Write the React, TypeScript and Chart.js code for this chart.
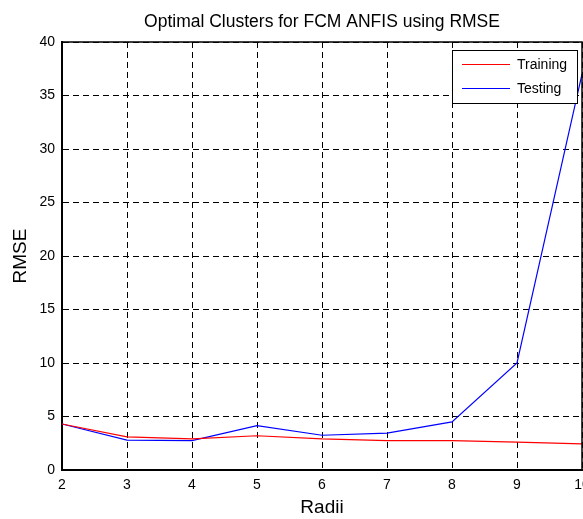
import React, { useEffect, useRef } from 'react';
import { Chart, registerables } from 'chart.js';

Chart.register(...registerables);

const radii = [2, 3, 4, 5, 6, 7, 8, 9, 10];
const training = [4.3, 3.1, 2.9, 3.2, 2.9, 2.75, 2.75, 2.6, 2.45];
const testing = [4.3, 2.8, 2.75, 4.15, 3.25, 3.45, 4.5, 10.0, 37.0];
const seriesNames = ['Training', 'Testing'];
const titleText = 'Optimal Clusters for FCM ANFIS using RMSE';
const xLabel = 'Radii';
const yLabel = 'RMSE';
const xRange = [2, 10];
const yRange = [0, 40];
const yStep = 5;

const FONT = "'Liberation Sans', Arial, Helvetica, sans-serif";

const boxPlugin = {
  id: 'boxPlugin',
  afterDatasetsDraw(chart: any) {
    const { ctx, chartArea } = chart;
    ctx.save();
    ctx.strokeStyle = '#000';
    ctx.lineWidth = 1.5;
    ctx.beginPath();
    ctx.moveTo(chartArea.left, chartArea.top);
    ctx.lineTo(chartArea.right, chartArea.top);
    ctx.lineTo(chartArea.right, chartArea.bottom);
    ctx.stroke();
    ctx.restore();
  },
};

const legendPlugin = {
  id: 'legendPlugin',
  afterDraw(chart: any) {
    const { ctx, chartArea } = chart;
    const w = 125;
    const h = 53;
    const x = Math.round(chartArea.right - 130);
    const y = Math.round(chartArea.top + 8);
    ctx.save();
    ctx.fillStyle = '#fff';
    ctx.fillRect(x, y, w, h);
    ctx.strokeStyle = '#000';
    ctx.lineWidth = 1;
    ctx.strokeRect(x + 0.5, y + 0.5, w, h);
    chart.data.datasets.forEach((ds: any, i: number) => {
      const cy = y + 14 + i * 24;
      ctx.strokeStyle = ds.borderColor;
      ctx.lineWidth = 1;
      ctx.beginPath();
      ctx.moveTo(x + 10, cy + 0.5);
      ctx.lineTo(x + 58, cy + 0.5);
      ctx.stroke();
      ctx.fillStyle = '#000';
      ctx.font = `14px ${FONT}`;
      ctx.textBaseline = 'middle';
      ctx.textAlign = 'left';
      ctx.fillText(ds.label, x + 65, cy + 1);
    });
    ctx.restore();
  },
};

export default function App() {
  const ref = useRef<HTMLCanvasElement | null>(null);

  useEffect(() => {
    if (!ref.current) return;
    const chart = new Chart(ref.current, {
      type: 'line',
      data: {
        datasets: [
          {
            label: seriesNames[0],
            data: radii.map((r, i) => ({ x: r, y: training[i] })),
            borderColor: '#ff0000',
            backgroundColor: '#ff0000',
            borderWidth: 1.2,
            pointRadius: 0,
            tension: 0,
          },
          {
            label: seriesNames[1],
            data: radii.map((r, i) => ({ x: r, y: testing[i] })),
            borderColor: '#0000ff',
            backgroundColor: '#0000ff',
            borderWidth: 1.2,
            pointRadius: 0,
            tension: 0,
          },
        ],
      },
      options: {
        responsive: false,
        animation: false,
        devicePixelRatio: 1,
        layout: { padding: { left: 0, right: 58, top: 0, bottom: 0 } },
        plugins: {
          legend: { display: false },
          tooltip: { enabled: false },
          title: {
            display: true,
            text: titleText,
            fullSize: false,
            color: '#000',
            font: { family: FONT, size: 17.5, weight: 'normal' },
            padding: { top: 11.5, bottom: 9.5 },
          },
        },
        scales: {
          x: {
            type: 'linear',
            min: xRange[0],
            max: xRange[1],
            afterFit(scale: any) {
              scale.height = 49;
            },
            ticks: {
              stepSize: 1,
              color: '#000',
              padding: 7,
              font: { family: FONT, size: 14 },
              maxRotation: 0,
            },
            grid: {
              color: '#000',
              lineWidth: 1,
              drawTicks: false,
              tickLength: 0,
            },
            border: { display: true, color: '#000', width: 2, dash: [6, 4] },
            title: {
              display: true,
              text: xLabel,
              color: '#000',
              font: { family: FONT, size: 19 },
              padding: { top: 0, bottom: 0 },
            },
          },
          y: {
            type: 'linear',
            min: yRange[0],
            max: yRange[1],
            afterFit(scale: any) {
              scale.width = 62;
            },
            ticks: {
              stepSize: yStep,
              color: '#000',
              padding: 7,
              font: { family: FONT, size: 14 },
            },
            grid: {
              color: '#000',
              lineWidth: 1,
              drawTicks: false,
              tickLength: 0,
            },
            border: { display: true, color: '#000', width: 2, dash: [6, 4] },
            title: {
              display: true,
              text: yLabel,
              color: '#000',
              font: { family: FONT, size: 19 },
              padding: { top: 9, bottom: 0 },
            },
          },
        },
      },
      plugins: [boxPlugin, legendPlugin],
    } as any);
    return () => chart.destroy();
  }, []);

  return (
    <div
      style={{
        position: 'fixed',
        left: 0,
        top: 0,
        width: 583,
        height: 519,
        overflow: 'hidden',
        background: '#fff',
      }}
    >
      <canvas ref={ref} width={640} height={519} style={{ width: 640, height: 519, display: 'block' }} />
    </div>
  );
}
